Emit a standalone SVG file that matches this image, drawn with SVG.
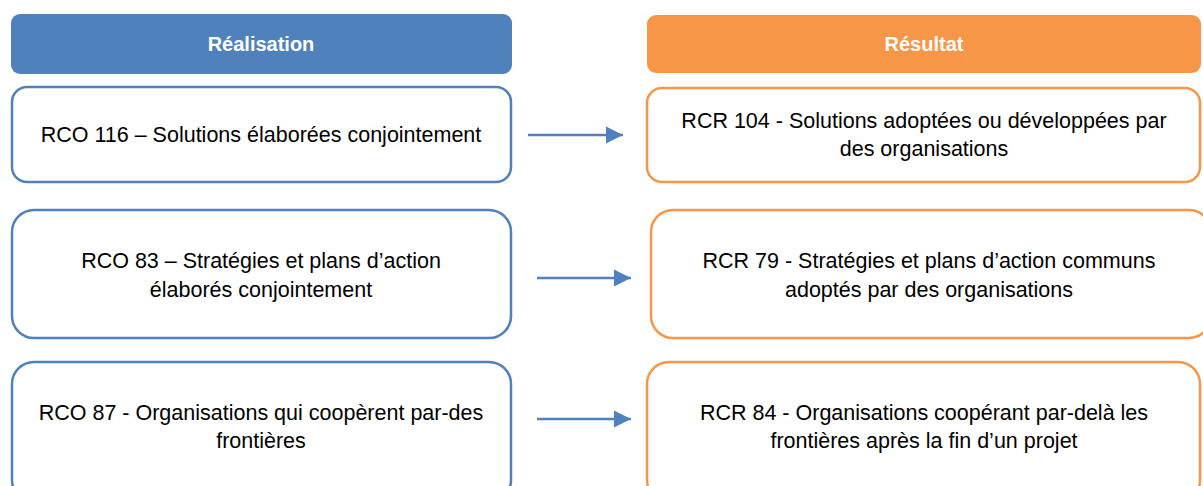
<svg xmlns="http://www.w3.org/2000/svg" width="1203" height="486" viewBox="0 0 1203 486">
<style>
.hb{fill:#4f81bd}
.ho{fill:#f79646}
.bb{fill:#fff;stroke:#4f81bd;stroke-width:2.5}
.bo{fill:#fff;stroke:#f79646;stroke-width:2.5}
.ht{font-family:"Liberation Sans",Arial,sans-serif;font-weight:bold;font-size:20px;fill:#fff;text-anchor:middle}
.t{font-family:"Liberation Sans",Arial,sans-serif;font-size:21.5px;fill:#000;text-anchor:middle}
.c{stroke:#4f81bd;stroke-width:2.5;fill:none}
</style>
<defs>
<marker id="ah" viewBox="0 0 10 10" refX="10" refY="5" markerWidth="7" markerHeight="7" markerUnits="strokeWidth" orient="auto">
<path d="M0,0 L10,5 L0,10 Z" fill="#4f81bd"/>
</marker>
</defs>
<g id="header-realisation"><rect class="hb" x="11" y="14" width="501" height="60" rx="9"/><text class="ht" x="261" y="51">Réalisation</text></g>
<g id="header-resultat"><rect class="ho" x="647" y="15" width="554" height="58" rx="9"/><text class="ht" x="924" y="51">Résultat</text></g>
<g id="rco116"><rect class="bb" x="12" y="87" width="499" height="95" rx="15"/><text class="t" x="261" y="142">RCO 116 – Solutions élaborées conjointement</text></g>
<g id="rco83"><rect class="bb" x="12" y="210" width="499" height="128" rx="22"/><text class="t" x="261" y="268">RCO 83 – Stratégies et plans d’action</text><text class="t" x="261" y="297">élaborés conjointement</text></g>
<g id="rco87"><rect class="bb" x="12" y="362" width="499" height="140" rx="22"/><text class="t" x="261" y="420">RCO 87 - Organisations qui coopèrent par-des</text><text class="t" x="261" y="448">frontières</text></g>
<g id="rcr104"><rect class="bo" x="647" y="88" width="553" height="94" rx="15"/><text class="t" x="924" y="128">RCR 104 - Solutions adoptées ou développées par</text><text class="t" x="924" y="156">des organisations</text></g>
<g id="rcr79"><rect class="bo" x="651" y="210" width="560" height="128" rx="22"/><text class="t" x="929" y="268">RCR 79 - Stratégies et plans d’action communs</text><text class="t" x="929" y="297">adoptés par des organisations</text></g>
<g id="rcr84"><rect class="bo" x="647" y="362" width="553" height="140" rx="22"/><text class="t" x="924" y="420">RCR 84 - Organisations coopérant par-delà les</text><text class="t" x="924" y="448">frontières après la fin d’un projet</text></g>
<g id="connectors">
<line class="c" x1="528" y1="135" x2="623" y2="135" marker-end="url(#ah)"/>
<line class="c" x1="537" y1="278" x2="631" y2="278" marker-end="url(#ah)"/>
<line class="c" x1="537" y1="419" x2="631" y2="419" marker-end="url(#ah)"/>
</g>
</svg>
